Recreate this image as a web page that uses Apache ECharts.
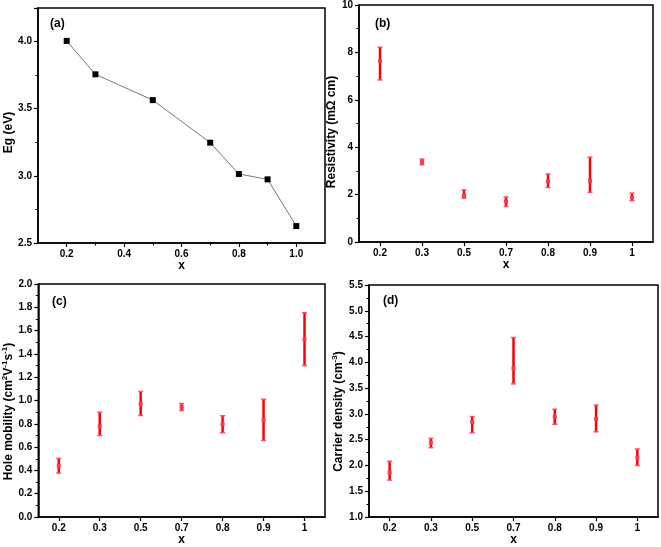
<!DOCTYPE html>
<html><head><meta charset="utf-8">
<script src="https://cdn.jsdelivr.net/npm/echarts@6/dist/echarts.min.js"></script>
<style>html,body{margin:0;padding:0;background:#fff}#c{width:661px;height:547px}</style>
</head><body><div id="c"></div>
<script>
// ---- data ----
const egX = [0.2, 0.3, 0.5, 0.7, 0.8, 0.9, 1.0];
const egY = [4.005, 3.756, 3.564, 3.247, 3.014, 2.974, 2.626];

const cats = ['0.2', '0.3', '0.5', '0.7', '0.8', '0.9', '1'];

const resMid = [7.63, 3.37, 1.97, 1.71, 2.56, 2.58, 1.88];
const resLow = [6.84, 3.26, 1.85, 1.50, 2.30, 2.10, 1.74];
const resHigh = [8.22, 3.50, 2.20, 1.90, 2.87, 3.58, 2.06];

const mobMid = [0.440, 0.777, 0.969, 0.943, 0.797, 0.831, 1.526];
const mobLow = [0.377, 0.700, 0.871, 0.914, 0.723, 0.657, 1.300];
const mobHigh = [0.503, 0.900, 1.077, 0.974, 0.869, 1.011, 1.754];

const denMid = [1.865, 2.442, 2.840, 3.885, 2.949, 2.904, 2.154];
const denLow = [1.718, 2.346, 2.635, 3.583, 2.800, 2.654, 2.000];
const denHigh = [2.083, 2.526, 2.949, 4.481, 3.090, 3.173, 2.320];

const egXLabels = [0.2, 0.4, 0.6, 0.8, 1.0];
const egXMinor = [0.3, 0.5, 0.7, 0.9];

// ---- styles ----
const FONT = '"Liberation Sans", Arial, sans-serif';
const lbl = {fontFamily: FONT, fontSize: 10, fontWeight: 'bold', color: '#000'};
function nameStyle(padRight) {
  return {fontFamily: FONT, fontSize: 12, fontWeight: 'bold', color: '#000', padding: [0, padRight || 0, 0, 0],
    rich: {sup: {fontFamily: FONT, fontSize: 8, fontWeight: 'bold', color: '#000', padding: [0, 0, 7, 0]},
           n: {fontFamily: FONT, fontSize: 12, fontWeight: 'bold', color: '#000'}}};
}
const axLine = {show: true, onZero: false, lineStyle: {color: '#000', width: 1.5}};

const grids = [
  {left: 38, top: 8, width: 287, height: 235},
  {left: 359, top: 5, width: 294, height: 237},
  {left: 38, top: 284, width: 287, height: 233},
  {left: 369, top: 285, width: 289, height: 234}
].map(g => Object.assign(g, {show: true, borderColor: '#000', borderWidth: 1.5, backgroundColor: 'transparent', containLabel: false}));

function valueY(gi, min, max, interval, name, gap, pad) {
  return {type: 'value', gridIndex: gi, min: min, max: max, interval: interval,
    name: name, nameLocation: 'middle', nameGap: gap, nameTextStyle: nameStyle(pad),
    axisLine: axLine, splitLine: {show: false},
    axisTick: {show: true, inside: false, length: 4, lineStyle: {color: '#000', width: 1.2}},
    minorTick: {show: true, splitNumber: 2, length: 2.5, lineStyle: {color: '#000', width: 1}},
    axisLabel: Object.assign({margin: 6, showMaxLabel: (max - min) / interval % 1 === 0 ? true : false}, lbl)};
}
function catX(gi, gap) {
  return {type: 'category', gridIndex: gi, data: cats, boundaryGap: true,
    name: 'x', nameLocation: 'middle', nameGap: gap, nameTextStyle: nameStyle(0),
    axisLine: axLine, splitLine: {show: false},
    axisTick: {show: true, alignWithLabel: true, length: 4, lineStyle: {color: '#000', width: 1.2}},
    axisLabel: Object.assign({margin: 6}, lbl)};
}

function errSeries(gi, mid, low, high) {
  const data = mid.map((m, i) => [i, m, low[i], high[i]]);
  return {type: 'custom', coordinateSystem: 'cartesian2d', xAxisIndex: gi, yAxisIndex: gi, data: data,
    encode: {x: 0, y: [1, 2, 3]},
    renderItem: function (params, api) {
      const c = api.coord([api.value(0), api.value(1)]);
      const lo = api.coord([api.value(0), api.value(2)]);
      const hi = api.coord([api.value(0), api.value(3)]);
      const x = c[0];
      return {type: 'group', children: [
        {type: 'line', shape: {x1: x, y1: lo[1], x2: x, y2: hi[1]}, style: {stroke: '#ff0000', lineWidth: 2.5}},
        {type: 'line', shape: {x1: x - 2.5, y1: lo[1], x2: x + 2.5, y2: lo[1]}, style: {stroke: '#ff4d6a', lineWidth: 1.5}},
        {type: 'line', shape: {x1: x - 2.5, y1: hi[1], x2: x + 2.5, y2: hi[1]}, style: {stroke: '#ff4d6a', lineWidth: 1.5}},
        {type: 'rect', shape: {x: x - 2, y: c[1] - 2, width: 4, height: 4}, style: {fill: '#ff3850', stroke: null}}
      ]};
    }};
}

const option = {
  animation: false,
  backgroundColor: '#fff',
  title: [
    {text: '(a)', left: 50, top: 18},
    {text: '(b)', left: 375, top: 18},
    {text: '(c)', left: 52, top: 296},
    {text: '(d)', left: 383, top: 295}
  ].map(t => Object.assign(t, {padding: 0, textStyle: {fontFamily: FONT, fontSize: 12, fontWeight: 'bold', color: '#000'}})),
  grid: grids,
  xAxis: [
    {type: 'value', gridIndex: 0, min: 0.1, max: 1.1,
      name: 'x', nameLocation: 'middle', nameGap: 16, nameTextStyle: nameStyle(0),
      axisLine: axLine, splitLine: {show: false},
      axisTick: {show: true, length: 4, customValues: egXLabels, lineStyle: {color: '#000', width: 1.2}},
      axisLabel: Object.assign({margin: 6, customValues: egXLabels, formatter: v => v.toFixed(1)}, lbl)},
    catX(1, 13),
    catX(2, 17),
    catX(3, 15),
    {type: 'value', gridIndex: 0, min: 0.1, max: 1.1, position: 'bottom',
      axisLine: {show: false}, splitLine: {show: false}, axisLabel: {show: false},
      axisTick: {show: true, length: 2.5, customValues: egXMinor, lineStyle: {color: '#000', width: 1}}}
  ],
  yAxis: [
    valueY(0, 2.5, 4.25, 0.5, 'Eg (eV)', 23, 14),
    valueY(1, 0, 10, 2, 'Resistivity (mΩ cm)', 13, 17),
    valueY(2, 0, 2, 0.2, '{n|Hole mobility (cm}{sup|2}{n|V}{sup|-1}{n|s}{sup|-1}{n|)}', 21, 22),
    valueY(3, 1, 5.5, 0.5, '{n|Carrier density (cm}{sup|-3}{n|)}', 23, 21)
  ],
  series: [
    {type: 'line', xAxisIndex: 0, yAxisIndex: 0, data: egX.map((x, i) => [x, egY[i]]),
      symbol: 'rect', symbolSize: 6, itemStyle: {color: '#000'},
      lineStyle: {color: '#777', width: 1}},
    errSeries(1, resMid, resLow, resHigh),
    errSeries(2, mobMid, mobLow, mobHigh),
    errSeries(3, denMid, denLow, denHigh)
  ]
};
option.yAxis[0].axisLabel.formatter = v => v.toFixed(1);
option.yAxis[2].axisLabel.formatter = v => v.toFixed(1);
option.yAxis[3].axisLabel.formatter = v => v.toFixed(1);
const chart = echarts.init(document.getElementById('c'), null, {renderer: 'canvas'});
chart.setOption(option);
</script></body></html>
